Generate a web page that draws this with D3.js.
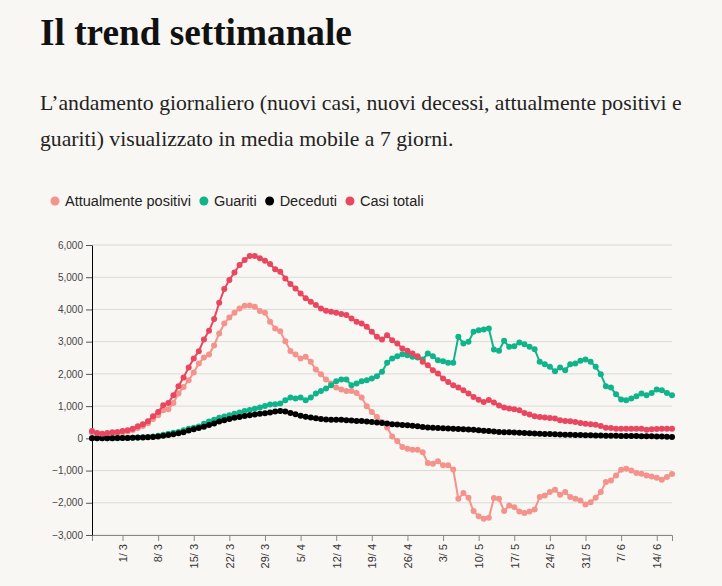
<!DOCTYPE html>
<meta charset="utf-8">
<body style="margin:0;background-color:#f9f7f3">

<!-- Load d3.js -->
<script src="https://d3js.org/d3.v7.min.js"></script>

<div id="my_dataviz"></div>

<script>

// first day of the moving average and the weekly tick days
var startDay = "2020-02-24";
var tickDays = ["2020-03-01","2020-03-08","2020-03-15","2020-03-22","2020-03-29","2020-04-05",
  "2020-04-12","2020-04-19","2020-04-26","2020-05-03","2020-05-10","2020-05-17",
  "2020-05-24","2020-05-31","2020-06-07","2020-06-14"];
var yTicks = [-3000, -2000, -1000, 0, 1000, 2000, 3000, 4000, 5000, 6000];

var seriesNames = ["Attualmente positivi", "Guariti", "Deceduti", "Casi totali"];

// 7-day moving averages, one value per day from 24/2
var attualmentePositivi = [180,120,110,130,150,165,190,215,260,320,380,470,600,715,870,902,1098,1389,1596,1803,
  2042,2322,2508,2601,2881,3254,3565,3752,3896,4031,4114,4124,4083,3948,3896,3617,3410,3320,3010,2710,
  2600,2477,2529,2374,2135,1990,1824,1700,1576,1513,1472,1472,1409,1264,995,819,663,508,340,55,
  -83,-269,-321,-352,-352,-430,-767,-788,-715,-839,-839,-964,-1876,-1700,-1845,-2259,-2415,-2498,-2467,-1855,
  -1876,-2259,-2083,-2135,-2270,-2321,-2270,-2207,-1824,-1772,-1669,-1596,-1752,-1669,-1824,-1876,-1928,-2052,-1980,-1845,
  -1669,-1358,-1306,-1150,-974,-943,-995,-1078,-1099,-1150,-1181,-1223,-1285,-1200,-1110];

var guariti = [0,0,2,3,5,5,8,10,15,20,30,40,60,80,110,140,170,200,250,300,
  330,370,450,520,580,640,680,720,760,800,850,880,920,960,1000,1050,1060,1080,1180,1264,
  1233,1264,1181,1264,1389,1472,1545,1648,1772,1824,1824,1648,1700,1772,1803,1856,1928,2063,2342,2477,
  2550,2612,2581,2529,2508,2446,2633,2550,2425,2394,2342,2342,3151,2944,2995,3306,3358,3379,3410,2757,
  2716,3026,2840,2860,2975,2923,2840,2767,2374,2301,2218,2083,2197,2115,2301,2322,2405,2446,2374,2218,
  1990,1617,1576,1368,1202,1181,1233,1306,1389,1337,1409,1513,1492,1409,1337];

var deceduti = [2,3,4,5,6,7,9,12,16,22,28,36,45,60,80,100,124,155,190,240,
  280,320,360,410,460,520,560,600,640,660,690,720,740,760,780,800,830,850,830,790,
  750,700,670,645,620,600,585,580,580,575,565,555,540,535,525,510,495,477,460,440,
  430,415,405,394,375,355,340,325,318,310,305,298,290,280,272,265,250,235,225,212,
  200,192,185,178,170,165,158,150,145,138,132,125,120,115,110,105,100,96,92,88,
  85,82,80,78,76,74,72,70,68,66,63,60,55,50,45];

var casiTotali = [227,165,146,165,186,196,227,249,300,373,435,529,684,819,1026,1099,1337,1617,1887,2198,
  2478,2705,3068,3336,3700,4207,4632,4912,5150,5378,5534,5658,5658,5586,5513,5410,5244,5171,4964,4787,
  4653,4498,4350,4238,4135,4031,3958,3927,3896,3855,3824,3720,3617,3565,3461,3306,3151,3068,3202,3047,
  2944,2788,2716,2633,2550,2374,2270,2115,2011,1856,1752,1648,1576,1492,1389,1285,1200,1130,1190,1110,
  1020,954,923,902,871,788,736,684,663,643,632,612,560,539,529,508,477,456,435,425,
  383,332,321,301,301,301,295,295,300,270,280,290,295,300,301];

var colors = ["#f4938b", "#10b48a", "#000000", "#e9475f"];

// page geometry
var W = 722, H = 586;
var margin = {top: 245, right: 50, bottom: 51, left: 92},
    width = W - margin.left - margin.right,
    height = H - margin.top - margin.bottom;

var parseDay = d3.timeParse("%Y-%m-%d");
var first = parseDay(startDay);
var days = attualmentePositivi.map(function(v, i) { return d3.timeDay.offset(first, i); });

var svg = d3.select("#my_dataviz")
  .append("svg")
    .attr("width", W)
    .attr("height", H)
    .style("display", "block");

// pick the font size that makes a text as wide as in the picture
function fitSize(sel, base, target) {
  var w = sel.node().getComputedTextLength();
  return base * target / w;
}

// title and intro text
var title = svg.append("text")
    .attr("x", 40).attr("y", 45)
    .style("font-family", "Liberation Serif")
    .style("font-weight", "bold")
    .style("font-size", "34px")
    .style("fill", "#111")
    .text("Il trend settimanale");
title.style("font-size", fitSize(title, 34, 312) + "px");

var intro = ["L\u2019andamento giornaliero (nuovi casi, nuovi decessi, attualmente positivi e",
             "guariti) visualizzato in media mobile a 7 giorni."];
var introText = svg.selectAll(".intro")
  .data(intro)
  .enter()
  .append("text")
    .attr("class", "intro")
    .attr("x", 40)
    .attr("y", function(d, i) { return 110 + i * 36; })
    .style("font-family", "Liberation Serif")
    .style("font-size", "20px")
    .style("fill", "#222")
    .text(function(d) { return d; });
var introSize = fitSize(d3.select(introText.nodes()[0]), 20, 642);
introText.style("font-size", introSize + "px");

// legend
var legend = svg.append("g").attr("transform", "translate(50,201)");
var probe = legend.append("text")
    .style("font-family", "Liberation Sans")
    .style("font-size", "13px")
    .text(seriesNames[0]);
var legendSize = fitSize(probe, 13, 126);
probe.remove();
var lx = 0;
seriesNames.forEach(function(name, i) {
  legend.append("circle")
    .attr("cx", lx + 5).attr("cy", 0).attr("r", 4.5)
    .style("fill", colors[i]);
  var t = legend.append("text")
    .attr("x", lx + 15).attr("y", 4.5)
    .style("font-family", "Liberation Sans")
    .style("font-size", legendSize + "px")
    .style("fill", "#222")
    .text(name);
  lx += 15 + t.node().getComputedTextLength() + 8;
});

var g = svg.append("g")
    .attr("transform", "translate(" + margin.left + "," + margin.top + ")");

// scales
var x = d3.scaleTime()
  .domain([days[0], days[days.length - 1]])
  .range([0, width]);
var y = d3.scaleLinear()
  .domain([-3000, 6000])
  .range([height, 0]);

// grid lines
g.append("g")
  .selectAll("line")
  .data(yTicks)
  .enter()
  .append("line")
    .attr("x1", 0).attr("x2", width)
    .attr("y1", function(d) { return y(d); })
    .attr("y2", function(d) { return y(d); })
    .style("stroke", "#dcdad6")
    .style("stroke-width", 1);

// X axis
var xAxis = g.append("g")
  .attr("transform", "translate(0," + height + ")")
  .call(d3.axisBottom(x)
    .tickValues(tickDays.map(parseDay))
    .tickFormat(function(d) { return d.getDate() + "/ " + (d.getMonth() + 1); }));
xAxis.select(".domain").style("stroke", "#888");
xAxis.selectAll(".tick line").style("stroke", "#888");
xAxis.selectAll("text")
  .attr("transform", "rotate(-90)")
  .attr("x", -9)
  .attr("y", 0)
  .attr("dy", "0.35em")
  .style("text-anchor", "end")
  .style("font-family", "Liberation Sans")
  .style("font-size", "11px")
  .style("fill", "#333");

// Y axis
var yAxis = g.append("g")
  .call(d3.axisLeft(y)
    .tickValues(yTicks)
    .tickSizeOuter(0)
    .tickFormat(d3.format(",")));
yAxis.selectAll("text")
  .style("font-family", "Liberation Sans")
  .style("font-size", "10px")
  .style("fill", "#444");
yAxis.selectAll(".tick line").style("stroke", "#555");

// lines with a dot on each day
var allSeries = [attualmentePositivi, guariti, deceduti, casiTotali];
var line = d3.line()
  .x(function(d, i) { return x(days[i]); })
  .y(function(d) { return y(d); });

allSeries.forEach(function(values, s) {
  g.append("path")
    .datum(values)
    .attr("d", line)
    .style("fill", "none")
    .style("stroke", colors[s])
    .style("stroke-width", 2);
  g.append("g")
    .selectAll("circle")
    .data(values)
    .enter()
    .append("circle")
      .attr("cx", function(d, i) { return x(days[i]); })
      .attr("cy", function(d) { return y(d); })
      .attr("r", 3)
      .style("fill", colors[s]);
});

</script>
